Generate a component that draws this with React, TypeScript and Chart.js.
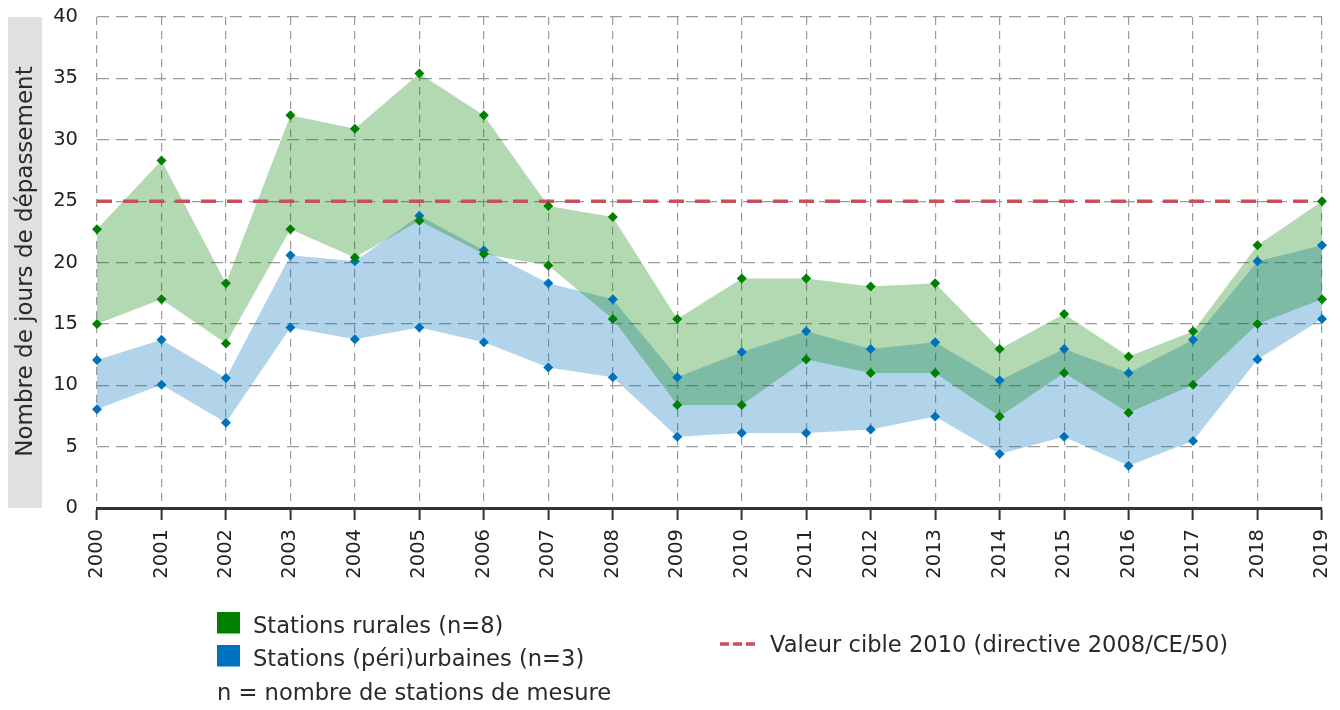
import React, { useEffect, useRef } from "react";
import { Chart, registerables } from "chart.js";

Chart.register(...registerables);

const years = ["2000", "2001", "2002", "2003", "2004", "2005", "2006", "2007", "2008", "2009", "2010", "2011", "2012", "2013", "2014", "2015", "2016", "2017", "2018", "2019"];
const ruralMax = [22.7, 28.3, 18.3, 32.0, 30.9, 35.4, 32.0, 24.6, 23.7, 15.4, 18.7, 18.7, 18.05, 18.3, 12.95, 15.8, 12.35, 14.4, 21.4, 25.0];
const ruralMin = [15.0, 17.0, 13.4, 22.7, 20.4, 23.4, 20.7, 19.75, 15.4, 8.4, 8.4, 12.1, 11.0, 11.0, 7.45, 11.0, 7.75, 10.05, 15.0, 17.0];
const urbanMax = [12.05, 13.7, 10.6, 20.6, 20.1, 23.8, 21.0, 18.3, 17.0, 10.65, 12.7, 14.4, 12.95, 13.5, 10.4, 12.95, 11.0, 13.7, 20.1, 21.4];
const urbanMin = [8.05, 10.05, 6.95, 14.7, 13.75, 14.7, 13.5, 11.45, 10.65, 5.8, 6.1, 6.1, 6.4, 7.45, 4.4, 5.8, 3.45, 5.45, 12.1, 15.4];
const targetValue = [25, 25, 25, 25, 25, 25, 25, 25, 25, 25, 25, 25, 25, 25, 25, 25, 25, 25, 25, 25];

const yTitle = "Nombre de jours de dépassement";
const legendRural = "Stations rurales (n=8)";
const legendUrban = "Stations (péri)urbaines (n=3)";
const legendNote = "n = nombre de stations de mesure";
const legendTarget = "Valeur cible 2010 (directive 2008/CE/50)";

const GREEN = "#008000";
const BLUE = "#0072bd";
const RED = "#cc4e5a";
const FONT = "'DejaVu Sans', sans-serif";

const decorPlugin = {
  id: "decor",
  beforeDraw(chart: any) {
    const { ctx, chartArea } = chart;
    ctx.save();
    ctx.fillStyle = "#e0e0e0";
    ctx.fillRect(0, chartArea.top, 34, chartArea.bottom - chartArea.top);
    ctx.translate(17, (chartArea.top + chartArea.bottom) / 2 - 1);
    ctx.rotate(-Math.PI / 2);
    ctx.fillStyle = "#2a2a2a";
    ctx.font = `23px ${FONT}`;
    ctx.textAlign = "center";
    ctx.textBaseline = "middle";
    ctx.fillText(yTitle, 0, 1);
    ctx.restore();
  },
  afterDraw(chart: any) {
    const { ctx } = chart;
    ctx.save();
    ctx.font = `22.6px ${FONT}`;
    ctx.textBaseline = "alphabetic";
    ctx.textAlign = "left";
    ctx.fillStyle = GREEN;
    ctx.fillRect(209, 604, 23, 21.5);
    ctx.fillStyle = BLUE;
    ctx.fillRect(209, 637, 23, 21.5);
    ctx.fillStyle = "#2a2a2a";
    ctx.fillText(legendRural, 245, 624.5);
    ctx.fillText(legendUrban, 245, 657.5);
    ctx.fillText(legendNote, 209, 692);
    ctx.strokeStyle = RED;
    ctx.lineWidth = 3.5;
    ctx.setLineDash([9, 4]);
    ctx.beginPath();
    ctx.moveTo(712, 636);
    ctx.lineTo(748, 636);
    ctx.stroke();
    ctx.setLineDash([]);
    ctx.fillText(legendTarget, 762, 643.5);
    ctx.restore();
  },
};

export default function App() {
  const canvasRef = useRef<HTMLCanvasElement | null>(null);

  useEffect(() => {
    if (!canvasRef.current) return;
    const pointCommon = {
      borderWidth: 0,
      pointStyle: "rectRot",
      pointRadius: 5,
      pointBorderWidth: 0,
      tension: 0,
    };
    const chart = new Chart(canvasRef.current, {
      type: "line",
      data: {
        labels: years,
        datasets: [
          {
            label: legendRural,
            data: ruralMax,
            fill: "+1",
            backgroundColor: "rgba(0,128,0,0.3)",
            borderColor: "rgba(0,0,0,0)",
            pointBackgroundColor: GREEN,
            order: 0,
            ...pointCommon,
          },
          {
            label: legendRural + " min",
            data: ruralMin,
            fill: false,
            backgroundColor: "rgba(0,128,0,0.3)",
            borderColor: "rgba(0,0,0,0)",
            pointBackgroundColor: GREEN,
            order: 0,
            ...pointCommon,
          },
          {
            label: legendTarget,
            data: targetValue,
            fill: false,
            borderColor: RED,
            borderWidth: 3.5,
            borderDash: [15, 11],
            pointRadius: 0,
            order: 1,
          },
          {
            label: legendUrban,
            data: urbanMax,
            fill: "+1",
            backgroundColor: "rgba(0,114,189,0.3)",
            borderColor: "rgba(0,0,0,0)",
            pointBackgroundColor: BLUE,
            order: 2,
            ...pointCommon,
          },
          {
            label: legendUrban + " min",
            data: urbanMin,
            fill: false,
            backgroundColor: "rgba(0,114,189,0.3)",
            borderColor: "rgba(0,0,0,0)",
            pointBackgroundColor: BLUE,
            order: 2,
            ...pointCommon,
          },
        ],
      } as any,
      options: {
        animation: false,
        responsive: false,
        maintainAspectRatio: false,
        layout: { padding: { left: 0, right: 10, top: 9, bottom: 128 } },
        plugins: {
          legend: { display: false },
          tooltip: { enabled: false },
          title: { display: false },
          filler: { drawTime: "beforeDatasetsDraw" },
        } as any,
        scales: {
          x: {
            type: "category",
            offset: false,
            afterFit: (scale: any) => {
              scale.height = 72;
              scale.paddingLeft = 0;
              scale.paddingRight = 0;
            },
            grid: {
              color: "#9a9a9a",
              lineWidth: 1.2,
              drawTicks: true,
              tickLength: 12,
              tickColor: "#333",
              tickWidth: 2,
              tickBorderDash: [],
            },
            border: { display: true, color: "#333", width: 3, dash: [8, 6] },
            ticks: {
              color: "#222",
              font: { family: FONT, size: 19.5 },
              maxRotation: 90,
              minRotation: 90,
              padding: 9,
              autoSkip: false,
            },
          },
          y: {
            min: 0,
            max: 40,
            afterFit: (scale: any) => {
              scale.width = 89;
              scale.paddingTop = 0;
              scale.paddingBottom = 0;
            },
            grid: {
              color: "#9a9a9a",
              lineWidth: 1.2,
              drawTicks: false,
              tickLength: 0,
            },
            border: { display: false, dash: [12, 7] },
            ticks: {
              stepSize: 5,
              color: "#222",
              font: { family: FONT, size: 19.5 },
              padding: 19,
            },
          },
        },
      } as any,
      plugins: [decorPlugin],
    });
    return () => chart.destroy();
  }, []);

  return (
    <div style={{ width: 1324, height: 700 }}>
      <canvas ref={canvasRef} width={1324} height={700} style={{ display: "block" }} />
    </div>
  );
}
